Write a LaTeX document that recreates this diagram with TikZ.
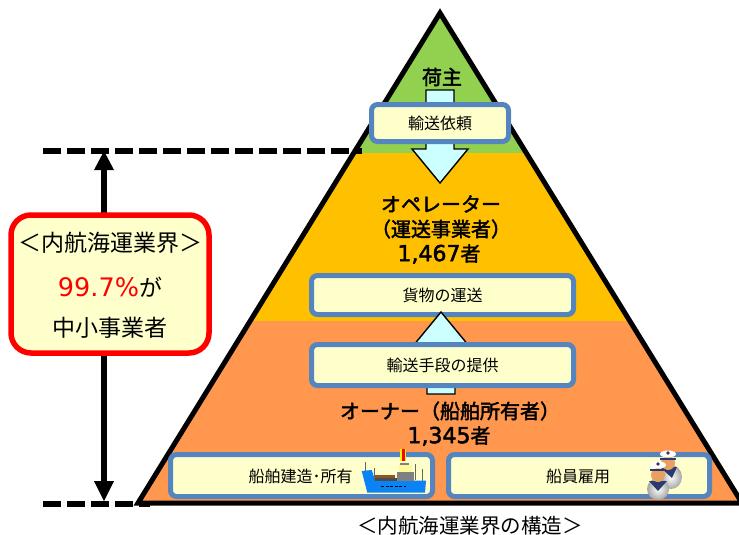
\documentclass[tikz,border=0pt]{standalone}
\usepackage{fontspec}
\setmainfont{Noto Sans CJK JP}
\newfontfamily\latinfont{DejaVu Sans}
\newfontfamily\labelfont[FakeBold=2.2]{Noto Sans CJK JP}
\newfontfamily\labelnum[FakeBold=2.2]{DejaVu Sans}
\usepackage{tikz}
\definecolor{shipper}{HTML}{92D050}
\definecolor{operator}{HTML}{FFC000}
\definecolor{owner}{HTML}{FF974F}
\definecolor{boxfill}{HTML}{FFFFCC}
\definecolor{boxline}{HTML}{5585BE}
\definecolor{arrowfill}{HTML}{CCFFFF}
\definecolor{hull}{HTML}{0A84F5}
\definecolor{skin}{HTML}{E8A060}
\definecolor{navy}{HTML}{2A3A70}
\tikzset{
  x=1pt,y=-1pt,
  every node/.style={inner sep=0pt,outer sep=0pt},
  flowbox/.style={draw=boxline,fill=boxfill,line width=5pt,rounded corners=6pt,font=\fontsize{16}{16}\selectfont},
  grouplabel/.style={font=\fontsize{20}{20}\selectfont\labelfont},
  blockarrow/.style={draw=black,fill=arrowfill,line width=1.4pt,line join=miter},
  levelline/.style={line width=6pt,dash pattern=on 18pt off 6pt},
  sharetext/.style={font=\fontsize{23}{23}\selectfont},
  sailorbody/.style={inner color=white,outer color=black!35}
}
\begin{document}
\begin{tikzpicture}
\useasboundingbox (0,0) rectangle (739,535);

\begin{scope}
\clip (440,13) -- (138,503) -- (742,503) -- cycle;
\fill[shipper] (130,0) rectangle (750,153);
\fill[operator] (130,153) rectangle (750,321);
\fill[owner] (130,321) rectangle (750,510);
\end{scope}
\draw[line width=5pt,line join=miter] (440,13) -- (138,503) -- (742,503) -- cycle;

\draw[blockarrow] (426,90) -- (454,90) -- (454,149) -- (468,149) -- (440,183) -- (412,149) -- (426,149) -- cycle;
\node[flowbox,minimum width=137pt,minimum height=37pt] (request) at (440,123) {輸送依頼};
\node[flowbox,minimum width=262pt,minimum height=39pt] (cargo) at (442.5,295) {貨物の運送};
\draw[blockarrow] (427,394) -- (455,394) -- (455,346) -- (469,346) -- (441,312) -- (413,346) -- (427,346) -- cycle;
\node[flowbox,minimum width=262pt,minimum height=41pt] (means) at (442.5,365) {輸送手段の提供};
\node[flowbox,minimum width=262pt,minimum height=42pt] (build) at (301.5,475.5) {};
\node[flowbox,minimum width=261pt,minimum height=42pt] (crew) at (579,475.5) {};
\node[font=\fontsize{16}{16}\selectfont] (buildtext) at (300.5,476) {船舶建造･所有};
\node[font=\fontsize{16}{16}\selectfont] (crewtext) at (578,476) {船員雇用};

\node[grouplabel] (shipper) at (442,77) {荷主};
\node[grouplabel] (oper) at (441,204) {オペレーター};
\node[grouplabel] (operb) at (441,229) {（運送事業者）};
\node[grouplabel] (opernum) at (439,254) {{\labelnum\fontsize{22}{22}\selectfont 1,467}者};
\node[grouplabel] (own) at (450,411) {オーナー（船舶所有者）};
\node[grouplabel] (ownnum) at (449,436) {{\labelnum\fontsize{22}{22}\selectfont 1,345}者};

\coordinate (topleft) at (43,151);
\coordinate (topright) at (362,151);
\coordinate (botleft) at (43,504);
\coordinate (botright) at (150,504);
\draw[levelline] (topleft) -- (topright);
\draw[levelline] (botleft) -- (botright);

\coordinate (toparrow) at (104,151);
\coordinate (botarrow) at (104,501);
\draw[line width=6pt] (104,170) -- (104,482);
\fill (toparrow) -- (114,170) -- (94,170) -- cycle;
\fill (botarrow) -- (114,481) -- (94,481) -- cycle;

\node[draw=red,fill=boxfill,line width=5.5pt,rounded corners=20pt,minimum width=198pt,minimum height=138pt] (share) at (110,284) {};
\node[sharetext] (sharea) at (110,243) {＜内航海運業界＞};
\node[sharetext] (shareb) at (110,287) {\textcolor{red}{\latinfont\fontsize{25.5}{25.5}\selectfont 99.7\%}が};
\node[sharetext] (sharec) at (110,328) {中小事業者};

\node[font=\fontsize{20.5}{20.5}\selectfont] (caption) at (470,526) {＜内航海運業界の構造＞};

% ship
\fill[hull] (361.7,471) -- (371.7,470) -- (375,480) -- (426,480.7) -- (425,492.7) -- (367.3,492.7) -- cycle;
\draw[black!60,line width=.5pt] (365,462) -- (365,471) (374,468) -- (374,480) (415,464) -- (415,480) (422,469) -- (422,481);
\fill[brown!70!black] (375,475) rectangle (395,479.5);
\fill[black!70] (375,478) rectangle (397,481);
\fill[yellow!40] (399,465) rectangle (412,472);
\fill[black!50] (397,472) rectangle (414,481);
\fill[black!50] (400,463) rectangle (409,465);
\fill[yellow] (400,449) rectangle (406,461);
\fill[red] (402,449) rectangle (405,461);
\draw[black,line width=1.2pt,dash pattern=on 3pt off 1.5pt] (381,486.7) -- (406,486.7);

% sailors
\shade[sailorbody] (671,477) ellipse (11pt and 12pt);
\fill[navy] (660,467) -- (677,467) -- (672,478) -- cycle;
\fill[skin] (668,463) circle (7pt);
\fill[white] (668,454) ellipse (8pt and 3.5pt);
\fill[navy] (660,458) rectangle (676,460);
\fill[navy] (668,453) circle (1.8pt);
\shade[sailorbody] (658,489) ellipse (11pt and 11pt);
\fill[navy] (649,481) -- (667,481) -- (658,491) -- cycle;
\fill[skin] (658,475) circle (7pt);
\fill[white] (658,465) ellipse (8pt and 3.5pt);
\fill[navy] (650,469) rectangle (666,471);
\fill[navy] (658,464) circle (1.8pt);
\end{tikzpicture}
\end{document}
